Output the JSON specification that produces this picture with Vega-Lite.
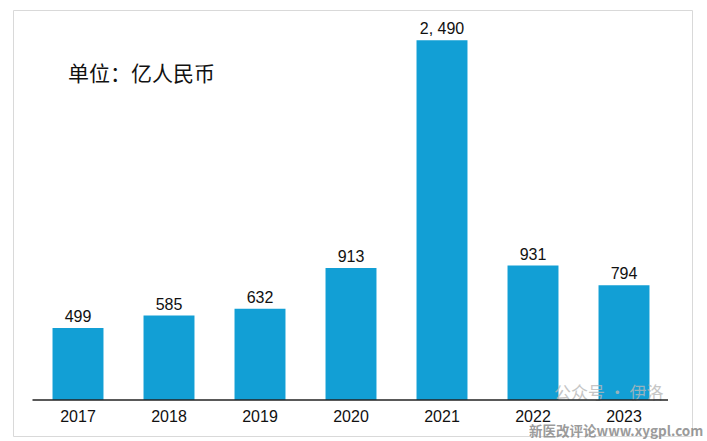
{
  "$schema": "https://vega.github.io/schema/vega-lite/v6.json",
  "width": 679,
  "height": 426,
  "autosize": "none",
  "padding": {"left": 13, "top": 10, "right": 18, "bottom": 5},
  "background": "white",
  "config": {
    "view": {"stroke": "#d9d9d9", "strokeWidth": 1},
    "font": "Liberation Sans"
  },
  "datasets": {
    "main": [
      {"year": "2017", "value": 499, "label": "499"},
      {"year": "2018", "value": 585, "label": "585"},
      {"year": "2019", "value": 632, "label": "632"},
      {"year": "2020", "value": 913, "label": "913"},
      {"year": "2021", "value": 2490, "label": "2, 490"},
      {"year": "2022", "value": 931, "label": "931"},
      {"year": "2023", "value": 794, "label": "794"}
    ],
    "base": [{"start": 0, "end": 1, "value": 0}],
    "unit": [{"year": "2017", "value": 2248, "text": "单位：亿人民币"}],
    "wm1": [{"year": "2022", "value": 41, "text": "公众号 · 伊洛"}],
    "wm2": [{"year": "2022", "value": -221, "text": "新医改评论www.xygpl.com"}]
  },
  "resolve": {"scale": {"x": "independent"}},
  "layer": [
    {
      "layer": [
        {
          "data": {"name": "main"},
          "mark": {"type": "bar", "color": "#129fd5"},
          "encoding": {
            "x": {
              "field": "year", "type": "nominal", "sort": null,
              "scale": {"range": [19.5, 656.5], "paddingInner": 0.44, "paddingOuter": 0.22},
              "axis": {
                "title": null, "orient": "bottom", "offset": -36, "ticks": false,
                "domain": false, "labelAngle": 0,
                "labelFontSize": 16, "labelColor": "#111111", "labelPadding": 8,
                "labelFont": "Liberation Sans", "grid": false
              }
            },
            "y": {
              "field": "value", "type": "quantitative",
              "scale": {"domain": [0, 2700], "range": [390, 0], "nice": false, "zero": true},
              "axis": null
            }
          }
        },
        {
          "data": {"name": "main"},
          "mark": {"type": "text", "baseline": "bottom", "dy": -3, "fontSize": 16, "color": "#111111", "font": "Liberation Sans"},
          "encoding": {
            "x": {"field": "year", "type": "nominal", "sort": null},
            "y": {"field": "value", "type": "quantitative"},
            "text": {"field": "label"}
          }
        },
        {
          "data": {"name": "unit"},
          "mark": {"type": "text", "align": "left", "baseline": "middle", "dx": -10, "fontSize": 21, "color": "#111111", "font": "Noto Sans CJK SC"},
          "encoding": {
            "x": {"field": "year", "type": "nominal"},
            "y": {"field": "value", "type": "quantitative"},
            "text": {"field": "text"}
          }
        },
        {
          "data": {"name": "wm1"},
          "mark": {"type": "text", "align": "left", "baseline": "middle", "dx": 21, "fontSize": 17, "color": "#b8b8b8", "opacity": 0.8, "font": "Noto Sans CJK SC"},
          "encoding": {
            "x": {"field": "year", "type": "nominal"},
            "y": {"field": "value", "type": "quantitative"},
            "text": {"field": "text"}
          }
        },
        {
          "data": {"name": "wm2"},
          "mark": {"type": "text", "align": "left", "baseline": "middle", "dx": -4, "fontSize": 13.5, "fontWeight": "bold", "color": "#8a8a8a", "opacity": 0.85, "font": "Noto Sans CJK SC"},
          "encoding": {
            "x": {"field": "year", "type": "nominal"},
            "y": {"field": "value", "type": "quantitative"},
            "text": {"field": "text"}
          }
        }
      ]
    },
    {
      "data": {"name": "base"},
      "mark": {"type": "rule", "color": "#222222", "strokeWidth": 1.5},
      "encoding": {
        "x": {"field": "start", "type": "quantitative", "scale": {"domain": [0, 1], "range": [19.5, 655]}, "axis": null},
        "x2": {"field": "end"},
        "y": {"field": "value", "type": "quantitative"}
      }
    }
  ]
}
